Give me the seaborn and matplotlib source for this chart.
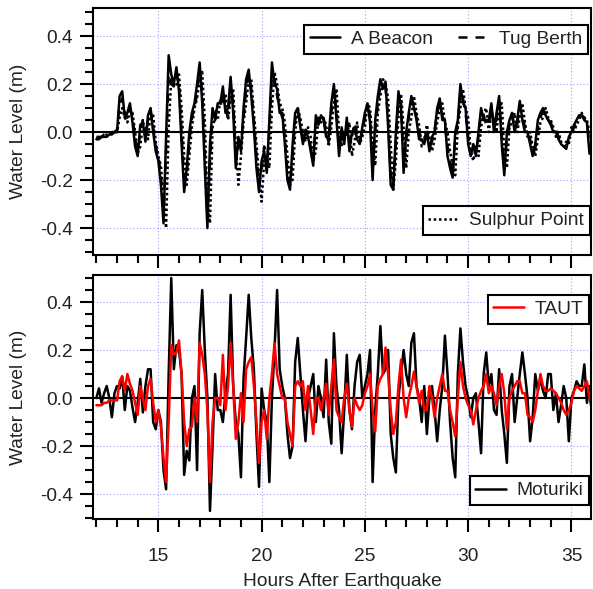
import numpy as np
import pandas as pd
import matplotlib
matplotlib.use("Agg")
import matplotlib.pyplot as plt
import seaborn as sns
from matplotlib.ticker import MultipleLocator

# sampling every 7.5 minutes, 12 h -> 36 h after the earthquake
hours = np.arange(12.0, 36.001, 0.125)

# water levels (m), one row per hour (8 samples)
a_beacon = [
    -0.03, -0.03, -0.02, -0.02, -0.02, -0.01, -0.01, 0.00,   # 12
    0.00, 0.15, 0.17, 0.06, 0.08, 0.12, 0.04, -0.06,         # 13
    -0.10, 0.03, 0.04, -0.04, 0.07, 0.10, 0.00, -0.08,       # 14
    -0.12, -0.22, -0.38, -0.02, 0.32, 0.24, 0.20, 0.27,      # 15
    0.17, -0.05, -0.25, -0.15, 0.00, 0.08, 0.12, 0.20,       # 16
    0.29, 0.12, -0.15, -0.40, -0.05, 0.10, 0.05, 0.12,       # 17
    0.12, 0.19, 0.08, 0.10, 0.23, 0.08, -0.15, -0.02,        # 18
    -0.08, 0.10, 0.22, 0.26, 0.15, 0.02, -0.15, -0.25,       # 19
    -0.12, -0.08, -0.17, 0.05, 0.29, 0.20, 0.18, 0.08,       # 20
    0.08, -0.05, -0.20, -0.24, -0.05, 0.08, 0.10, 0.02,      # 21
    -0.05, 0.00, -0.02, -0.08, -0.14, 0.07, 0.03, 0.07,      # 22
    0.05, -0.02, -0.02, 0.12, 0.20, 0.05, -0.10, 0.02,       # 23
    -0.05, 0.06, -0.08, 0.00, 0.02, -0.03, -0.05, 0.02,      # 24
    0.08, 0.12, 0.04, -0.20, 0.05, 0.15, 0.22, 0.18,         # 25
    0.21, 0.02, -0.22, -0.24, 0.00, 0.17, 0.10, -0.17,       # 26
    0.00, 0.08, 0.15, 0.10, 0.05, -0.03, -0.03, -0.05,       # 27
    0.00, -0.08, -0.02, 0.00, 0.10, 0.14, 0.05, 0.05,        # 28
    -0.10, -0.15, -0.19, 0.00, 0.05, 0.20, 0.12, 0.10,       # 29
    -0.05, -0.10, -0.05, -0.10, 0.00, 0.10, 0.05, 0.05,      # 30
    0.05, 0.12, 0.00, 0.08, 0.15, -0.05, -0.18, 0.00,        # 31
    0.05, 0.08, 0.00, 0.05, 0.13, 0.05, 0.00, 0.00,          # 32
    -0.05, -0.10, -0.05, 0.05, 0.08, 0.10, 0.07, 0.05,       # 33
    0.03, 0.00, 0.00, -0.03, -0.05, -0.06, -0.07, -0.02,     # 34
    0.00, 0.03, 0.05, 0.07, 0.07, 0.05, 0.04, -0.09,         # 35
    -0.08,                                                   # 36
]

tug_berth = [
    -0.02, -0.02, -0.02, -0.01, -0.01, -0.01, 0.00, 0.00,    # 12
    0.01, 0.12, 0.14, 0.08, 0.06, 0.10, 0.06, -0.03,         # 13
    -0.08, 0.00, 0.05, -0.02, 0.05, 0.09, 0.02, -0.06,       # 14
    -0.10, -0.18, -0.35, -0.08, 0.24, 0.20, 0.19, 0.24,      # 15
    0.20, 0.00, -0.20, -0.18, -0.04, 0.06, 0.10, 0.16,       # 16
    0.27, 0.16, -0.08, -0.36, -0.12, 0.06, 0.08, 0.10,       # 17
    0.10, 0.17, 0.10, 0.06, 0.20, 0.12, -0.10, -0.06,        # 18
    -0.05, 0.06, 0.18, 0.24, 0.18, 0.05, -0.10, -0.22,       # 19
    -0.16, -0.06, -0.14, 0.00, 0.24, 0.22, 0.15, 0.10,       # 20
    0.06, -0.02, -0.16, -0.22, -0.10, 0.05, 0.09, 0.04,      # 21
    -0.03, 0.01, 0.00, -0.06, -0.12, 0.04, 0.05, 0.05,       # 22
    0.06, 0.00, -0.04, 0.08, 0.18, 0.09, -0.06, 0.00,        # 23
    -0.03, 0.04, -0.05, -0.02, 0.04, -0.01, -0.04, 0.00,     # 24
    0.06, 0.10, 0.07, -0.16, 0.00, 0.12, 0.19, 0.20,         # 25
    0.18, 0.06, -0.18, -0.22, -0.04, 0.14, 0.12, -0.12,      # 26
    -0.04, 0.06, 0.13, 0.12, 0.06, 0.00, -0.04, -0.04,       # 27
    0.02, -0.06, -0.04, 0.01, 0.08, 0.12, 0.07, 0.03,        # 28
    -0.06, -0.12, -0.17, -0.03, 0.03, 0.17, 0.14, 0.08,      # 29
    -0.02, -0.08, -0.07, -0.08, -0.02, 0.08, 0.07, 0.03,     # 30
    0.03, 0.10, 0.03, 0.05, 0.13, -0.01, -0.14, -0.03,       # 31
    0.03, 0.07, 0.02, 0.03, 0.11, 0.07, 0.02, 0.00,          # 32
    -0.03, -0.08, -0.07, 0.02, 0.06, 0.09, 0.08, 0.05,       # 33
    0.04, 0.01, 0.01, -0.02, -0.04, -0.05, -0.06, -0.03,     # 34
    -0.01, 0.02, 0.04, 0.06, 0.07, 0.06, 0.04, -0.05,        # 35
    -0.06,                                                   # 36
]

sulphur_point = [
    -0.03, -0.02, -0.02, -0.02, -0.01, -0.01, 0.00, 0.00,    # 12
    0.00, 0.06, 0.10, 0.06, 0.04, 0.09, 0.08, 0.00,          # 13
    -0.09, -0.06, 0.04, 0.02, -0.03, 0.08, 0.07, -0.04,      # 14
    -0.10, -0.14, -0.28, -0.40, 0.02, 0.22, 0.20, 0.19,      # 15
    0.24, 0.10, -0.10, -0.22, -0.10, 0.02, 0.10, 0.14,       # 16
    0.22, 0.25, 0.05, -0.30, -0.38, 0.02, 0.06, 0.05,        # 17
    0.14, 0.12, 0.16, 0.05, 0.14, 0.18, -0.05, -0.22,        # 18
    -0.10, 0.04, 0.12, 0.22, 0.22, 0.08, -0.05, -0.18,       # 19
    -0.29, -0.12, -0.10, -0.15, 0.10, 0.25, 0.20, 0.12,      # 20
    0.10, 0.04, -0.10, -0.20, -0.20, 0.00, 0.10, 0.06,       # 21
    0.00, -0.04, 0.02, -0.02, -0.12, -0.08, 0.06, 0.04,      # 22
    0.06, 0.03, -0.06, 0.02, 0.12, 0.18, 0.00, -0.06,        # 23
    0.00, -0.02, 0.04, -0.10, -0.04, 0.04, -0.05, -0.02,     # 24
    0.02, 0.12, 0.10, -0.05, -0.14, 0.08, 0.15, 0.22,        # 25
    0.20, 0.14, -0.05, -0.24, -0.12, 0.06, 0.16, 0.02,       # 26
    -0.15, 0.00, 0.06, 0.15, 0.08, 0.03, -0.06, -0.03,       # 27
    0.03, -0.02, -0.08, -0.03, 0.04, 0.10, 0.12, 0.04,       # 28
    0.00, -0.08, -0.14, -0.18, 0.02, 0.10, 0.18, 0.10,       # 29
    0.06, -0.08, -0.12, -0.06, -0.10, 0.02, 0.08, 0.10,      # 30
    0.00, 0.08, 0.06, 0.00, 0.10, 0.12, -0.08, -0.15,        # 31
    0.02, 0.04, 0.08, 0.00, 0.06, 0.12, 0.04, -0.02,         # 32
    0.00, -0.06, -0.10, -0.03, 0.04, 0.06, 0.10, 0.06,       # 33
    0.05, 0.02, -0.02, 0.00, -0.04, -0.06, -0.04, -0.05,     # 34
    0.02, 0.00, 0.03, 0.05, 0.08, 0.06, 0.05, 0.00,          # 35
    -0.05,                                                   # 36
]

moturiki = [
    0.00, 0.04, -0.02, 0.02, 0.05, 0.00, -0.08, 0.02,        # 12
    0.05, 0.04, 0.09, -0.05, 0.05, 0.03, -0.04, -0.10,       # 13
    -0.02, 0.08, -0.06, 0.05, 0.12, 0.12, -0.10, -0.13,      # 14
    -0.05, -0.10, -0.30, -0.38, 0.10, 0.50, 0.12, 0.22,      # 15
    0.20, 0.10, -0.32, -0.22, -0.26, 0.00, 0.05, -0.30,      # 16
    0.27, 0.45, 0.20, 0.00, -0.47, -0.20, 0.10, -0.05,       # 17
    -0.05, -0.10, 0.02, 0.10, 0.43, 0.05, -0.10, -0.15,      # 18
    -0.33, 0.08, 0.25, 0.43, 0.25, 0.12, -0.15, -0.37,       # 19
    0.04, -0.05, -0.10, -0.35, 0.00, 0.20, 0.45, 0.12,       # 20
    0.05, 0.00, -0.15, -0.25, -0.20, 0.15, 0.25, 0.10,       # 21
    -0.05, -0.18, 0.00, 0.05, 0.10, -0.10, 0.05, 0.00,       # 22
    -0.08, 0.16, -0.10, -0.19, 0.27, 0.05, -0.05, -0.23,     # 23
    -0.05, 0.18, -0.05, -0.13, 0.05, 0.15, 0.18, 0.00,       # 24
    0.05, 0.10, 0.20, -0.35, -0.05, 0.10, 0.30, 0.10,        # 25
    0.12, 0.20, -0.15, -0.25, -0.31, 0.00, 0.10, 0.20,       # 26
    0.10, 0.05, 0.23, 0.27, 0.05, 0.00, -0.10, 0.05,         # 27
    -0.15, 0.00, 0.05, -0.05, -0.18, -0.05, 0.05, 0.26,      # 28
    0.10, -0.10, -0.25, -0.33, 0.10, 0.29, 0.15, 0.05,       # 29
    0.00, -0.08, 0.00, 0.02, -0.10, -0.23, 0.10, 0.19,       # 30
    0.05, 0.10, -0.05, -0.07, 0.12, -0.05, -0.15, -0.27,     # 31
    0.05, 0.10, -0.10, 0.00, 0.10, 0.19, 0.10, 0.00,         # 32
    -0.18, -0.08, 0.10, 0.03, 0.08, 0.03, 0.00, 0.10,        # 33
    0.10, -0.05, 0.02, -0.10, -0.03, 0.05, 0.00, -0.18,      # 34
    0.00, 0.03, 0.07, 0.05, 0.05, 0.14, -0.02, 0.05,         # 35
    -0.05,                                                   # 36
]

taut = [
    -0.03, -0.03, -0.03, -0.02, -0.02, -0.01, -0.01, -0.01,  # 12
    -0.01, 0.07, 0.09, 0.03, 0.10, 0.06, 0.03, -0.02,        # 13
    -0.07, 0.05, 0.00, -0.05, 0.05, 0.08, -0.02, -0.10,      # 14
    -0.05, -0.12, -0.25, -0.35, -0.10, 0.22, 0.18, 0.19,     # 15
    0.24, 0.10, -0.10, -0.20, -0.13, -0.12, 0.00, -0.10,     # 16
    0.23, 0.18, 0.10, -0.05, -0.35, -0.10, 0.00, 0.00,       # 17
    -0.03, 0.18, -0.05, 0.05, 0.23, 0.05, -0.17, -0.10,      # 18
    0.02, -0.10, 0.12, 0.15, 0.17, 0.05, -0.10, -0.27,       # 19
    -0.10, -0.05, -0.17, 0.00, 0.10, 0.23, 0.10, 0.05,       # 20
    0.00, 0.00, -0.10, -0.15, -0.20, 0.05, 0.07, 0.05,       # 21
    0.07, -0.05, 0.05, -0.05, -0.15, 0.00, 0.00, -0.05,      # 22
    0.00, 0.06, -0.07, 0.05, 0.16, -0.05, -0.08, -0.10,      # 23
    0.00, 0.06, -0.05, -0.12, 0.00, -0.03, -0.05, -0.03,     # 24
    0.02, 0.05, 0.10, -0.05, -0.14, 0.05, 0.08, 0.10,        # 25
    0.21, 0.10, -0.05, -0.15, -0.10, 0.05, 0.16, 0.00,       # 26
    -0.08, 0.00, 0.05, 0.11, 0.05, -0.02, 0.03, -0.05,       # 27
    -0.05, 0.05, 0.00, -0.08, 0.00, 0.05, 0.10, 0.03,        # 28
    0.03, -0.05, -0.10, -0.16, 0.00, 0.15, 0.05, 0.00,       # 29
    -0.03, -0.05, -0.11, -0.05, 0.00, 0.03, 0.05, 0.10,      # 30
    0.02, 0.05, 0.02, -0.03, 0.05, 0.10, 0.02, -0.13,        # 31
    0.00, 0.03, 0.05, 0.07, 0.07, 0.02, 0.02, -0.07,         # 32
    -0.08, -0.10, -0.05, 0.03, 0.10, 0.05, 0.03, 0.03,       # 33
    0.04, 0.03, 0.02, 0.00, -0.02, -0.05, -0.07, -0.05,      # 34
    -0.02, 0.03, 0.05, 0.04, 0.03, 0.05, 0.07, 0.00,         # 35
    -0.05,                                                   # 36
]

ytick_vals = [-0.4, -0.2, 0.0, 0.2, 0.4]
ytick_labels = ['-0.4', '-0.2', '0.0', '0.2', '0.4']

df = pd.DataFrame({
    'hours': hours,
    'A Beacon': a_beacon,
    'Tug Berth': tug_berth,
    'Sulphur Point': sulphur_point,
    'Moturiki': moturiki,
    'TAUT': taut,
})

sns.set_theme(style="ticks")
plt.rcParams['font.family'] = ['Liberation Sans', 'DejaVu Sans']
plt.rcParams['axes.unicode_minus'] = False
FS = 13.8
LW = 1.8

fig = plt.figure(figsize=(5.93, 5.89), dpi=100)
ax1 = fig.add_axes([0.1573, 0.5671, 0.8401, 0.4194])
ax2 = fig.add_axes([0.1573, 0.1188, 0.8401, 0.4143])


def style_axes(ax, ylim):
    ax.set_xlim(11.85, 35.97)
    ax.set_ylim(*ylim)
    ax.xaxis.set_major_locator(MultipleLocator(5))
    ax.xaxis.set_minor_locator(MultipleLocator(1))
    ax.set_yticks(ytick_vals)
    ax.set_yticklabels(ytick_labels)
    ax.yaxis.set_minor_locator(MultipleLocator(0.05))
    ax.set_axisbelow(True)
    ax.grid(which='major', color='#9d9dff', linestyle=(0, (1, 2)), linewidth=0.8)
    ax.axhline(0, color='black', lw=1.5, zorder=1.5)
    for s in ax.spines.values():
        s.set_linewidth(1.5)
        s.set_color('black')
    ax.tick_params(which='major', length=9.5, width=1.5, direction='out',
                   labelsize=FS, labelcolor='#222222', color='black', pad=5)
    ax.tick_params(which='minor', length=5.5, width=1.5, direction='out', color='black')
    ax.tick_params(axis='x', which='major', pad=11.5)
    ax.tick_params(top=False, right=False)
    ax.set_ylabel('Water Level (m)', fontsize=FS, color='#222222')
    ax.yaxis.set_label_coords(-0.133, 0.5)


def add_legend(ax, handles, loc, anchor, ncol=1):
    leg = ax.legend(handles=handles, loc=loc, bbox_to_anchor=anchor, ncol=ncol,
                    fontsize=FS, frameon=True, fancybox=False, framealpha=1,
                    edgecolor='black', borderpad=0.3, borderaxespad=0,
                    handlelength=1.6, handletextpad=0.55, columnspacing=1.3)
    leg.get_frame().set_linewidth(1.5)
    for t in leg.get_texts():
        t.set_color('#222222')
    return leg


# top panel: Tauranga harbour gauges
sns.lineplot(data=df, x='hours', y='Sulphur Point', ax=ax1, color='black', lw=LW,
             linestyle=(0, (1, 1.1)), legend=False)
sns.lineplot(data=df, x='hours', y='Tug Berth', ax=ax1, color='black', lw=LW,
             linestyle=(0, (3.6, 3.2)), legend=False)
sns.lineplot(data=df, x='hours', y='A Beacon', ax=ax1, color='black', lw=LW,
             legend=False)
l_sp, l_tb, l_ab = ax1.lines[-3:]
l_sp.set_label('Sulphur Point')
l_tb.set_label('Tug Berth')
l_ab.set_label('A Beacon')

# bottom panel
sns.lineplot(data=df, x='hours', y='Moturiki', ax=ax2, color='black', lw=LW, legend=False)
sns.lineplot(data=df, x='hours', y='TAUT', ax=ax2, color='#ff0000', lw=LW, legend=False)
l_mo, l_ta = ax2.lines[-2:]
l_mo.set_label('Moturiki')
l_ta.set_label('TAUT')

style_axes(ax1, (-0.512, 0.517))
style_axes(ax2, (-0.504, 0.5125))
ax1.tick_params(labelbottom=False)
ax1.set_xlabel('')
ax2.set_xlabel('Hours After Earthquake', fontsize=FS, color='#222222', labelpad=5.5)

leg_top = add_legend(ax1, [l_ab, l_tb], 'upper right', (0.993, 0.931), ncol=2)
ax1.add_artist(leg_top)
add_legend(ax1, [l_sp], 'lower right', (0.997, 0.081))

leg_taut = add_legend(ax2, [l_ta], 'upper right', (0.995, 0.918))
ax2.add_artist(leg_taut)
add_legend(ax2, [l_mo], 'lower right', (0.995, 0.057))

fig.savefig('out.png', dpi=100)
